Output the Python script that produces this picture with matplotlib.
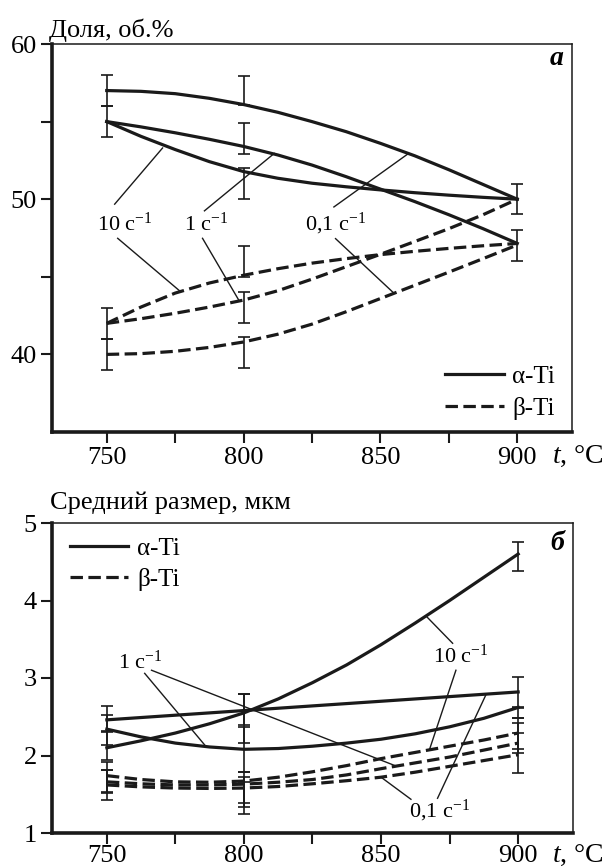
import matplotlib
matplotlib.use('Agg')
from matplotlib import pyplot as plt
from matplotlib.lines import Line2D

plt.rcParams['font.family'] = ['Liberation Serif', 'DejaVu Serif']
plt.rcParams['mathtext.fontset'] = 'custom'
plt.rcParams['mathtext.rm'] = 'Liberation Serif'
plt.rcParams['mathtext.it'] = 'Liberation Serif:italic'
plt.rcParams['font.size'] = 19

temps = [750, 762.5, 775, 787.5, 800, 812.5, 825, 837.5, 850, 862.5, 875, 887.5, 900]

# (a) phase fraction, vol.% - fitted curves
alpha_01 = [57.0, 56.95, 56.8, 56.5, 56.1, 55.6, 55.0, 54.35, 53.6, 52.8, 51.9, 50.95, 50.0]
alpha_1 = [55.0, 54.66, 54.28, 53.86, 53.4, 52.85, 52.2, 51.45, 50.65, 49.85, 49.0, 48.1, 47.15]
alpha_10 = [55.0, 54.05, 53.2, 52.42, 51.78, 51.35, 51.03, 50.8, 50.6, 50.42, 50.26, 50.12, 50.0]
beta_10 = [42.0, 43.05, 43.95, 44.6, 45.1, 45.52, 45.88, 46.17, 46.43, 46.64, 46.83, 47.0, 47.15]
beta_1 = [42.0, 42.3, 42.65, 43.05, 43.5, 44.1, 44.85, 45.65, 46.45, 47.27, 48.1, 49.0, 50.0]
beta_01 = [40.0, 40.05, 40.2, 40.45, 40.8, 41.3, 41.95, 42.75, 43.6, 44.45, 45.3, 46.17, 47.05]

# (a) measured points with error
pts_t_a = [750, 750, 750, 750, 800, 800, 800, 800, 800, 800, 900, 900]
pts_v_a = [57.0, 55.0, 42.0, 40.0, 57.0, 53.9, 51.0, 46.0, 43.0, 40.1, 50.0, 47.0]
pts_e_a = [1.0, 1.0, 1.0, 1.0, 0.95, 1.0, 1.0, 1.0, 1.0, 1.0, 0.95, 1.0]

# (б) mean grain size, um - fitted curves
a_size_10 = [2.1, 2.19, 2.29, 2.41, 2.55, 2.73, 2.94, 3.17, 3.43, 3.71, 4.0, 4.3, 4.6]
a_size_01 = [2.46, 2.49, 2.52, 2.55, 2.58, 2.61, 2.64, 2.67, 2.70, 2.73, 2.76, 2.79, 2.82]
a_size_1 = [2.34, 2.24, 2.16, 2.11, 2.08, 2.09, 2.12, 2.16, 2.21, 2.28, 2.37, 2.48, 2.62]
b_size_10 = [1.74, 1.69, 1.66, 1.655, 1.67, 1.72, 1.79, 1.87, 1.96, 2.04, 2.12, 2.2, 2.29]
b_size_1 = [1.66, 1.635, 1.62, 1.62, 1.63, 1.655, 1.69, 1.75, 1.83, 1.905, 1.98, 2.07, 2.16]
b_size_01 = [1.62, 1.595, 1.58, 1.575, 1.58, 1.60, 1.635, 1.675, 1.72, 1.785, 1.86, 1.935, 2.01]

pts_t_b = [750] * 6 + [800] * 6 + [900] * 6
pts_v_b = [2.48, 2.33, 2.12, 1.72, 1.66, 1.62,
           2.60, 2.48, 2.08, 1.59, 1.53, 1.455,
           4.57, 2.81, 2.55, 2.285, 2.225, 2.03]
pts_e_b = [0.16, 0.19, 0.18, 0.19, 0.15, 0.19,
           0.20, 0.32, 0.29, 0.20, 0.19, 0.205,
           0.19, 0.20, 0.07, 0.195, 0.195, 0.26]

ticks_major = [750, 800, 850, 900]
ticks_minor = [775, 825, 875]

dash = (0, (3.9, 1.7))
lw = 2.3
ink = '#1a1a1a'

fig = plt.figure(figsize=(6.07, 8.68), dpi=100)
ax1 = fig.add_axes([52 / 607, 1 - 432 / 868, 520 / 607, 388 / 868])
ax2 = fig.add_axes([52 / 607, 1 - 833 / 868, 521 / 607, 310 / 868])

for ax in (ax1, ax2):
    ax.set_xlim(730, 920)
    ax.set_xticks(ticks_major)
    ax.set_xticks(ticks_minor, minor=True)
    ax.tick_params(which='both', direction='out', length=8, width=1.5, color=ink)
    ax.tick_params(axis='y', pad=3)
    ax.spines['left'].set_linewidth(2.6)
    ax.spines['bottom'].set_linewidth(2.6)
    ax.spines['top'].set_linewidth(1.1)
    ax.spines['right'].set_linewidth(1.1)
    for s in ax.spines.values():
        s.set_color(ink)
ax1.tick_params(axis='x', pad=3)
ax2.tick_params(axis='x', pad=1)

h = [Line2D([], [], color=ink, lw=lw), Line2D([], [], color=ink, lw=lw, linestyle=dash)]

# ---- panel a
ax1.set_ylim(35, 60)
ax1.set_yticks([40, 50, 60])
ax1.set_yticks([45, 55], minor=True)
for v in (alpha_01, alpha_1, alpha_10):
    ax1.plot(temps, v, color=ink, lw=lw)
for v in (beta_10, beta_1, beta_01):
    ax1.plot(temps, v, color=ink, lw=lw, linestyle=dash)
ax1.errorbar(pts_t_a, pts_v_a, yerr=pts_e_a, fmt='none', ecolor=ink,
             elinewidth=1.2, capsize=4, capthick=1.2)

lbl_a = [('10 с$^{-1}$', 756.5, 48.4, [(752.9, 49.68, 770.4, 53.3), (754.0, 47.48, 776.6, 44.1)]),
         ('1 с$^{-1}$', 786.5, 48.4, [(785.7, 49.25, 811.2, 52.95), (785.0, 47.48, 798.4, 43.45)]),
         ('0,1 с$^{-1}$', 833.5, 48.4, [(833.0, 49.50, 860.3, 52.95), (833.6, 47.46, 854.9, 43.95)])]
for txt, tx, ty, segs in lbl_a:
    ax1.text(tx, ty, txt, ha='center', va='center', fontsize=16)
    for x0, y0, x1, y1 in segs:
        ax1.plot([x0, x1], [y0, y1], color=ink, lw=1.0)

ax1.text(0.983, 0.946, 'а', transform=ax1.transAxes, ha='right', va='baseline',
         fontweight='bold', fontstyle='italic', fontsize=20)
ax1.legend(h, ['α-Ti', 'β-Ti'], loc='lower right', bbox_to_anchor=(0.987, 0.005),
           frameon=False, handlelength=2.35, handletextpad=0.35, labelspacing=0.37,
           borderaxespad=0, fontsize=18)

# ---- panel б
ax2.set_ylim(1, 5)
ax2.set_yticks([1, 2, 3, 4, 5])
for v in (a_size_10, a_size_01, a_size_1):
    ax2.plot(temps, v, color=ink, lw=lw)
for v in (b_size_10, b_size_1, b_size_01):
    ax2.plot(temps, v, color=ink, lw=lw, linestyle=dash)
ax2.errorbar(pts_t_b, pts_v_b, yerr=pts_e_b, fmt='none', ecolor=ink,
             elinewidth=1.2, capsize=4, capthick=1.2)

lbl_b = [('1 с$^{-1}$', 762.0, 3.2, [(763.8, 3.06, 786.3, 2.11), (766.3, 3.10, 855.4, 1.865)]),
         ('10 с$^{-1}$', 879.2, 3.28, [(876.1, 3.448, 866.4, 3.8), (877.3, 3.10, 867.6, 2.07)]),
         ('0,1 с$^{-1}$', 871.2, 1.28, [(870.6, 1.448, 888.2, 2.78), (860.9, 1.435, 850.0, 1.72)])]
for txt, tx, ty, segs in lbl_b:
    ax2.text(tx, ty, txt, ha='center', va='center', fontsize=16)
    for x0, y0, x1, y1 in segs:
        ax2.plot([x0, x1], [y0, y1], color=ink, lw=1.0)

ax2.text(0.983, 0.913, 'б', transform=ax2.transAxes, ha='right', va='baseline',
         fontweight='bold', fontstyle='italic', fontsize=20)
ax2.legend(h, ['α-Ti', 'β-Ti'], loc='upper left', bbox_to_anchor=(0.0146, 0.985),
           frameon=False, handlelength=2.35, handletextpad=0.35, labelspacing=0.3,
           borderaxespad=0, fontsize=18)

fig.text(49 / 607, 1 - 30 / 868, 'Доля, об.%', ha='left', va='center', fontsize=19)
fig.text(50 / 607, 1 - 503 / 868, 'Средний размер, мкм', ha='left', va='center', fontsize=19)
fig.text(552 / 607, 1 - 456 / 868, '$\\mathit{t}$, °C', ha='left', va='center', fontsize=20)
fig.text(552 / 607, 1 - 855 / 868, '$\\mathit{t}$, °C', ha='left', va='center', fontsize=20)

fig.savefig('out.png', dpi=100, facecolor='white')
